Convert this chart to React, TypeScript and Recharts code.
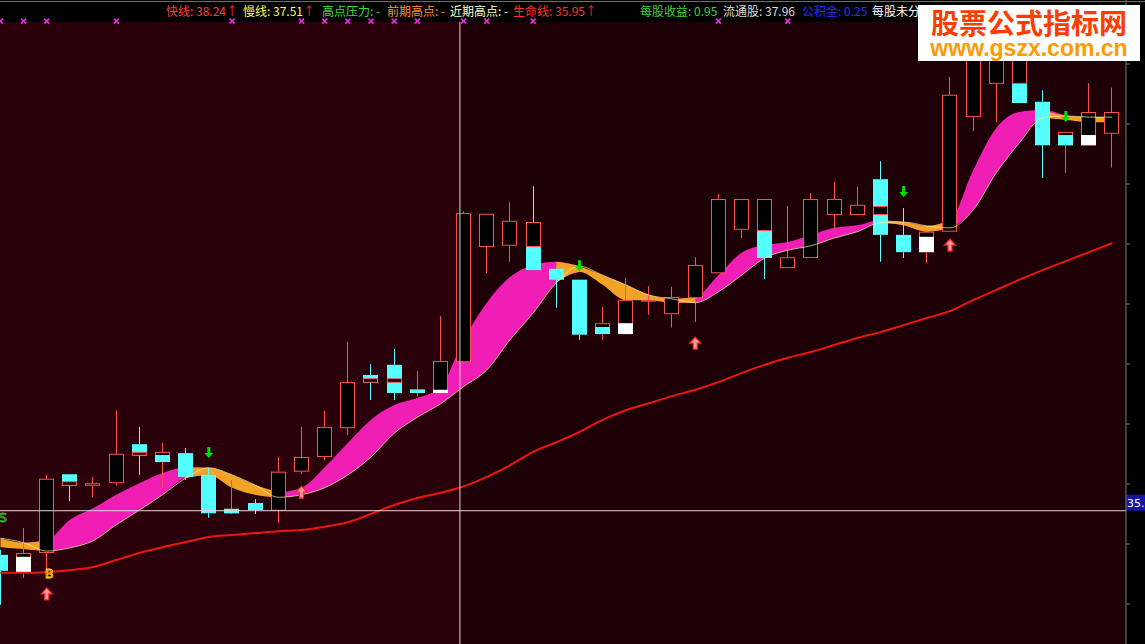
import React from 'react';
import { ComposedChart, Bar, Area, Line, Scatter, XAxis, YAxis, ReferenceLine } from 'recharts';

// K-line values (price units)
const highs = [34.96, 35.30, 36.13, 36.14, 36.10, 37.14, 36.88, 36.63, 36.55, 36.24, 36.05, 35.75, 36.41, 36.88, 37.13, 38.21, 37.86, 38.10, 37.75, 38.61, 40.25, 40.21, 40.39, 40.64, 39.36, 39.18, 38.75, 39.21, 39.08, 39.07, 39.53, 40.52, 40.44, 40.44, 40.33, 40.53, 40.71, 40.63, 41.03, 40.30, 39.93, 42.35, 42.85, 42.77, 42.77, 42.14, 41.49, 42.25, 42.18];
const lows = [34.10, 34.52, 34.61, 35.72, 35.78, 35.96, 36.13, 35.93, 36.05, 35.46, 35.52, 35.52, 35.38, 36.14, 36.36, 36.75, 37.30, 37.30, 37.35, 37.41, 37.86, 39.28, 39.46, 39.33, 38.74, 38.24, 38.24, 38.33, 38.63, 38.43, 38.52, 39.28, 39.83, 39.19, 39.36, 39.52, 39.96, 40.19, 39.46, 39.52, 39.44, 39.93, 41.50, 41.64, 41.94, 40.77, 40.85, 41.28, 40.93];
const opens = [34.88, 34.61, 34.91, 36.14, 35.96, 36.00, 36.61, 36.33, 36.47, 36.13, 35.53, 35.69, 35.57, 36.18, 36.41, 36.86, 37.69, 37.85, 37.41, 37.41, 37.89, 39.69, 39.71, 40.08, 39.35, 39.18, 38.33, 38.33, 38.85, 38.64, 38.89, 39.28, 39.96, 40.44, 39.36, 39.52, 40.19, 40.19, 40.75, 39.88, 39.61, 39.93, 41.72, 42.24, 42.77, 41.96, 41.28, 41.28, 41.46];
const closes = [34.63, 34.91, 36.07, 35.96, 36.00, 36.46, 36.43, 36.49, 36.10, 35.53, 35.60, 35.58, 36.18, 36.41, 36.88, 37.58, 37.57, 37.41, 37.47, 37.91, 40.22, 40.21, 40.10, 39.33, 39.18, 38.32, 38.50, 38.86, 38.86, 38.91, 39.41, 40.44, 40.44, 39.52, 39.53, 40.44, 40.44, 40.35, 39.88, 39.61, 39.93, 42.07, 42.80, 42.77, 41.94, 41.28, 41.49, 41.80, 41.80];

// indicator sticks drawn over some bodies
const stickBars = [1, 3, 6, 7, 10, 16, 17, 18, 19, 23, 26, 27, 33, 38, 40, 44, 46, 47];
const stickKinds = ['white', 'hollow', 'hollow', 'cyan', 'cyan', 'hollow', 'hollow', 'cyan', 'white', 'hollow', 'cyan', 'white', 'hollow', 'hollow', 'white', 'hollow', 'cyan', 'white'];
const stickUpper = [34.85, 36.03, 36.49, 36.44, 35.60, 37.64, 37.64, 37.46, 37.46, 40.08, 38.44, 38.50, 40.44, 40.33, 39.85, 42.77, 41.44, 41.44];
const stickLower = [34.61, 35.96, 36.43, 36.33, 35.53, 37.57, 37.57, 37.41, 37.41, 39.69, 38.33, 38.33, 39.94, 40.19, 39.61, 42.24, 41.28, 41.28];

const fastLine = [35.00, 34.97, 35.11, 35.43, 35.61, 35.82, 36.00, 36.16, 36.25, 36.13, 35.93, 35.82, 35.86, 35.93, 36.25, 36.63, 36.99, 37.22, 37.33, 37.50, 38.24, 38.82, 39.22, 39.41, 39.46, 39.30, 39.10, 38.86, 38.86, 38.82, 38.91, 39.25, 39.60, 39.72, 39.77, 39.88, 39.99, 40.03, 40.11, 40.03, 39.93, 40.11, 40.89, 41.55, 41.80, 41.83, 41.68, 41.64, 41.64];
const slowLine = [35.14, 35.07, 34.94, 34.99, 35.10, 35.35, 35.58, 35.82, 36.08, 36.24, 36.13, 35.97, 35.78, 35.82, 35.93, 36.13, 36.41, 36.78, 37.03, 37.24, 37.51, 37.77, 38.24, 38.66, 39.13, 39.39, 39.25, 39.10, 38.94, 38.88, 38.82, 38.99, 39.25, 39.52, 39.64, 39.71, 39.83, 39.93, 40.07, 40.08, 40.02, 39.99, 40.27, 40.85, 41.32, 41.71, 41.74, 41.72, 41.72];
const lifeLine = [34.60, 34.60, 34.61, 34.64, 34.69, 34.80, 34.91, 35.00, 35.08, 35.16, 35.19, 35.22, 35.25, 35.27, 35.32, 35.39, 35.52, 35.66, 35.77, 35.85, 35.95, 36.10, 36.28, 36.49, 36.64, 36.80, 36.99, 37.14, 37.25, 37.36, 37.46, 37.58, 37.72, 37.85, 37.96, 38.05, 38.16, 38.27, 38.36, 38.47, 38.58, 38.69, 38.86, 39.02, 39.18, 39.33, 39.47, 39.61, 39.75];

const markerBars = [0, 1, 2, 5, 10, 13, 14, 15, 16, 17, 18, 20, 21, 23, 31, 34];
const markerLevel = 43.22;
const sellBars = [9, 25, 39, 46];
const sellLevels = [36.47, 39.39, 40.55, 41.72];
const buyBars = [2, 13, 30, 41];
const buyLevels = [34.27, 35.86, 38.19, 39.72];
const signalBars = [0.1, 2.1];
const signalLevels = [35.47, 34.6];
const signalTexts = ['S', 'B'];

const axisTicks = [42.55, 41.6125, 40.675, 39.7375, 38.8, 37.8625, 36.925, 35.9875, 35.05, 34.1125];
const Y_MIN = 33.4875;
const Y_MAX = 43.55;
const PANE_TOP = 43.206;
const CROSS_BAR = 19.84;
const CROSS_PRICE = 35.57;

const RED = '#ff5050';
const CYAN = '#54ffff';
const BODY = 15;

const rows = highs.map((h, i) => {
  const isPink = (k: number) => k >= 0 && k < fastLine.length && fastLine[k] >= slowLine[k];
  const isOrange = (k: number) => k >= 0 && k < fastLine.length && fastLine[k] < slowLine[k];
  const band = [Math.min(fastLine[i], slowLine[i]), Math.max(fastLine[i], slowLine[i])];
  const s = stickBars.indexOf(i);
  return {
    i,
    range: [lows[i], h],
    high: h,
    low: lows[i],
    open: opens[i],
    close: closes[i],
    stick: s >= 0 ? { kind: stickKinds[s], upper: stickUpper[s], lower: stickLower[s] } : null,
    slow: slowLine[i],
    life: lifeLine[i],
    pink: isPink(i) || isPink(i - 1) || isPink(i + 1) ? band : null,
    orange: isOrange(i) || isOrange(i - 1) || isOrange(i + 1) ? band : null,
  };
});

const Candle = (props: any) => {
  const { x, y, width, height, payload } = props;
  if (x == null || y == null || !height) return null;
  const top0 = Math.min(y, y + height);
  const h = Math.abs(height);
  const { open, close, high, low, stick } = payload;
  const ppu = h / (high - low);
  const py = (v: number) => top0 + (high - v) * ppu;
  const mid = x + width / 2;
  const cx = Math.floor(mid) + 0.5;
  const bx = Math.floor(mid) - 7;
  const up = close >= open;
  const bt = py(Math.max(open, close));
  const bb = py(Math.min(open, close));
  const bh = Math.max(bb - bt, 1);
  const col = up ? RED : CYAN;
  let over = null;
  if (stick) {
    const st = py(stick.upper);
    const sh = Math.max(py(stick.lower) - st, 1);
    if (stick.kind === 'hollow') {
      over = <rect x={bx + 0.5} y={st + 0.5} width={BODY - 1} height={Math.max(sh - 1, 0.5)} fill="#000" stroke={RED} />;
    } else {
      over = <rect x={bx} y={st} width={BODY} height={sh} fill={stick.kind === 'white' ? '#ffffff' : CYAN} />;
    }
  }
  return (
    <g>
      <line x1={cx} x2={cx} y1={top0} y2={bt} stroke={col} strokeWidth={1} />
      <line x1={cx} x2={cx} y1={bb} y2={top0 + h} stroke={col} strokeWidth={1} />
      {up ? (
        <rect x={bx + 0.5} y={bt + 0.5} width={BODY - 1} height={Math.max(bh - 1, 0.5)} fill="#000" stroke={RED} strokeWidth={1} />
      ) : (
        <rect x={bx} y={bt} width={BODY} height={bh} fill={CYAN} />
      )}
      {over}
    </g>
  );
};

const Marker = (p: any) => (
  <g stroke="#e030e0" strokeWidth={1.6}>
    <line x1={p.cx - 2.5} y1={p.cy - 2.5} x2={p.cx + 2.5} y2={p.cy + 2.5} />
    <line x1={p.cx - 2.5} y1={p.cy + 2.5} x2={p.cx + 2.5} y2={p.cy - 2.5} />
  </g>
);

const SellArrow = (p: any) => {
  const { cx, cy } = p;
  return (
    <path
      d={`M${cx},${cy + 5} L${cx + 4.5},${cy} L${cx + 1.5},${cy} L${cx + 1.5},${cy - 6} L${cx - 1.5},${cy - 6} L${cx - 1.5},${cy} L${cx - 4.5},${cy} Z`}
      fill="#00e000"
    />
  );
};

const BuyArrow = (p: any) => {
  const { cx, cy } = p;
  return (
    <path
      d={`M${cx},${cy - 6} L${cx + 5.5},${cy} L${cx + 2},${cy} L${cx + 2},${cy + 6} L${cx - 2},${cy + 6} L${cx - 2},${cy} L${cx - 5.5},${cy} Z`}
      fill="#ff9a9a"
      stroke="#ff2020"
      strokeWidth={1.2}
    />
  );
};

const SignalText = (p: any) => (
  <text
    x={p.cx}
    y={p.cy + 5}
    fontSize={13}
    fontFamily="DejaVu Sans, sans-serif"
    fill="none"
    stroke={p.payload.t === 'S' ? '#30c030' : '#ffd000'}
    strokeWidth={0.9}
    textAnchor="middle"
  >
    {p.payload.t}
  </text>
);

const PriceTag = (props: any) => {
  const vb = props.viewBox || {};
  const x = vb.x + vb.width;
  const y = vb.y;
  return (
    <g>
      <rect x={x} y={y - 16} width={19} height={16} fill="#1414a0" />
      <text x={x + 1} y={y - 4} fontSize={11} fill="#ffffff" fontFamily="DejaVu Sans, sans-serif">
        35.
      </text>
    </g>
  );
};

const header = [
  { left: 166, parts: [['快线: 38.24', '#ff3c3c'], ['↑', '#ff2020']] },
  { left: 243, parts: [['慢线: 37.51', '#ffff5a'], ['↑', '#ff2020']] },
  { left: 322, parts: [['高点压力: -', '#3cdc3c']] },
  { left: 387, parts: [['前期高点: -', '#ff8c28']] },
  { left: 450, parts: [['近期高点: -', '#ffffc8']] },
  { left: 513, parts: [['生命线: 35.95', '#ff3030'], ['↑', '#ff2020']] },
  { left: 640, parts: [['每股收益: 0.95', '#3cd23c']] },
  { left: 723, parts: [['流通股: 37.96', '#dcdcdc']] },
  { left: 802, parts: [['公积金: 0.25', '#2c2cff']] },
  { left: 872, parts: [['每股未分', '#ffffff']] },
];

export default function App() {
  return (
    <div style={{ position: 'absolute', left: 0, top: 0, width: 1145, height: 644, background: '#000', overflow: 'hidden', fontFamily: '"Noto Sans CJK SC", sans-serif' }}>
      <div style={{ position: 'absolute', left: 0, top: 1, width: 1145, height: 1, background: '#6e6e6e' }} />
      <div style={{ position: 'absolute', left: 0, top: 22, width: 460, height: 622, background: '#2a000b' }} />
      <div style={{ position: 'absolute', left: 460, top: 22, width: 666, height: 622, background: '#1e0007' }} />
      <div style={{ position: 'absolute', left: 0, top: 0 }}>
        <ComposedChart width={1145} height={644} data={rows} margin={{ top: 0, right: 0, bottom: 0, left: 0 }}>
          <XAxis dataKey="i" type="number" domain={[-0.02, 48.6]} allowDataOverflow hide />
          <YAxis
            orientation="right"
            width={19}
            domain={[Y_MIN, Y_MAX]}
            allowDataOverflow
            ticks={axisTicks}
            tickFormatter={() => ''}
            tickSize={4}
            axisLine={{ stroke: '#767676' }}
            tickLine={{ stroke: '#767676' }}
          />
          <Area dataKey="pink" type="monotone" stroke="none" fill="#f01eb4" fillOpacity={1} dot={false} activeDot={false} isAnimationActive={false} />
          <Area dataKey="orange" type="monotone" stroke="none" fill="#f2a224" fillOpacity={1} dot={false} activeDot={false} isAnimationActive={false} />
          <Line dataKey="slow" type="monotone" stroke="#fff2a8" strokeWidth={1} strokeOpacity={0.7} dot={false} activeDot={false} isAnimationActive={false} />
          <Line dataKey="life" type="monotone" stroke="#ee1414" strokeWidth={2} dot={false} activeDot={false} isAnimationActive={false} />
          <Bar dataKey="range" barSize={15} shape={Candle} activeBar={false} isAnimationActive={false} />
          <Scatter data={markerBars.map((i) => ({ i, v: markerLevel }))} dataKey="v" shape={Marker} isAnimationActive={false} />
          <Scatter data={sellBars.map((i, k) => ({ i, v: sellLevels[k] }))} dataKey="v" shape={SellArrow} isAnimationActive={false} />
          <Scatter data={buyBars.map((i, k) => ({ i, v: buyLevels[k] }))} dataKey="v" shape={BuyArrow} isAnimationActive={false} />
          <Scatter data={signalBars.map((i, k) => ({ i, v: signalLevels[k], t: signalTexts[k] }))} dataKey="v" shape={SignalText} isAnimationActive={false} />
          <ReferenceLine segment={[{ x: CROSS_BAR, y: PANE_TOP }, { x: CROSS_BAR, y: Y_MIN }]} stroke="#ead6d6" strokeWidth={1} />
          <ReferenceLine y={CROSS_PRICE} stroke="#ead6d6" strokeWidth={1} label={PriceTag} />
        </ComposedChart>
      </div>
      {header.map((h, k) => (
        <div key={k} style={{ position: 'absolute', left: h.left, top: 4, fontSize: 12, lineHeight: '14px', whiteSpace: 'nowrap' }}>
          {h.parts.map((p, j) => (
            <span key={j} style={{ color: p[1] }}>{p[0]}</span>
          ))}
        </div>
      ))}
      <div style={{ position: 'absolute', left: 918, top: 5, width: 222, height: 56, background: '#ffffff' }}>
        <div style={{ position: 'absolute', left: 0, top: 2, width: 222, textAlign: 'center', fontSize: 28, fontWeight: 700, color: '#ff3c00', lineHeight: '30px' }}>股票公式指标网</div>
        <div style={{ position: 'absolute', left: 0, top: 33, width: 222, textAlign: 'center', fontSize: 23, fontWeight: 700, color: '#ff9a00', lineHeight: '21px', fontFamily: '"Liberation Sans", Arial, sans-serif' }}>www.gszx.com.cn</div>
      </div>
    </div>
  );
}
